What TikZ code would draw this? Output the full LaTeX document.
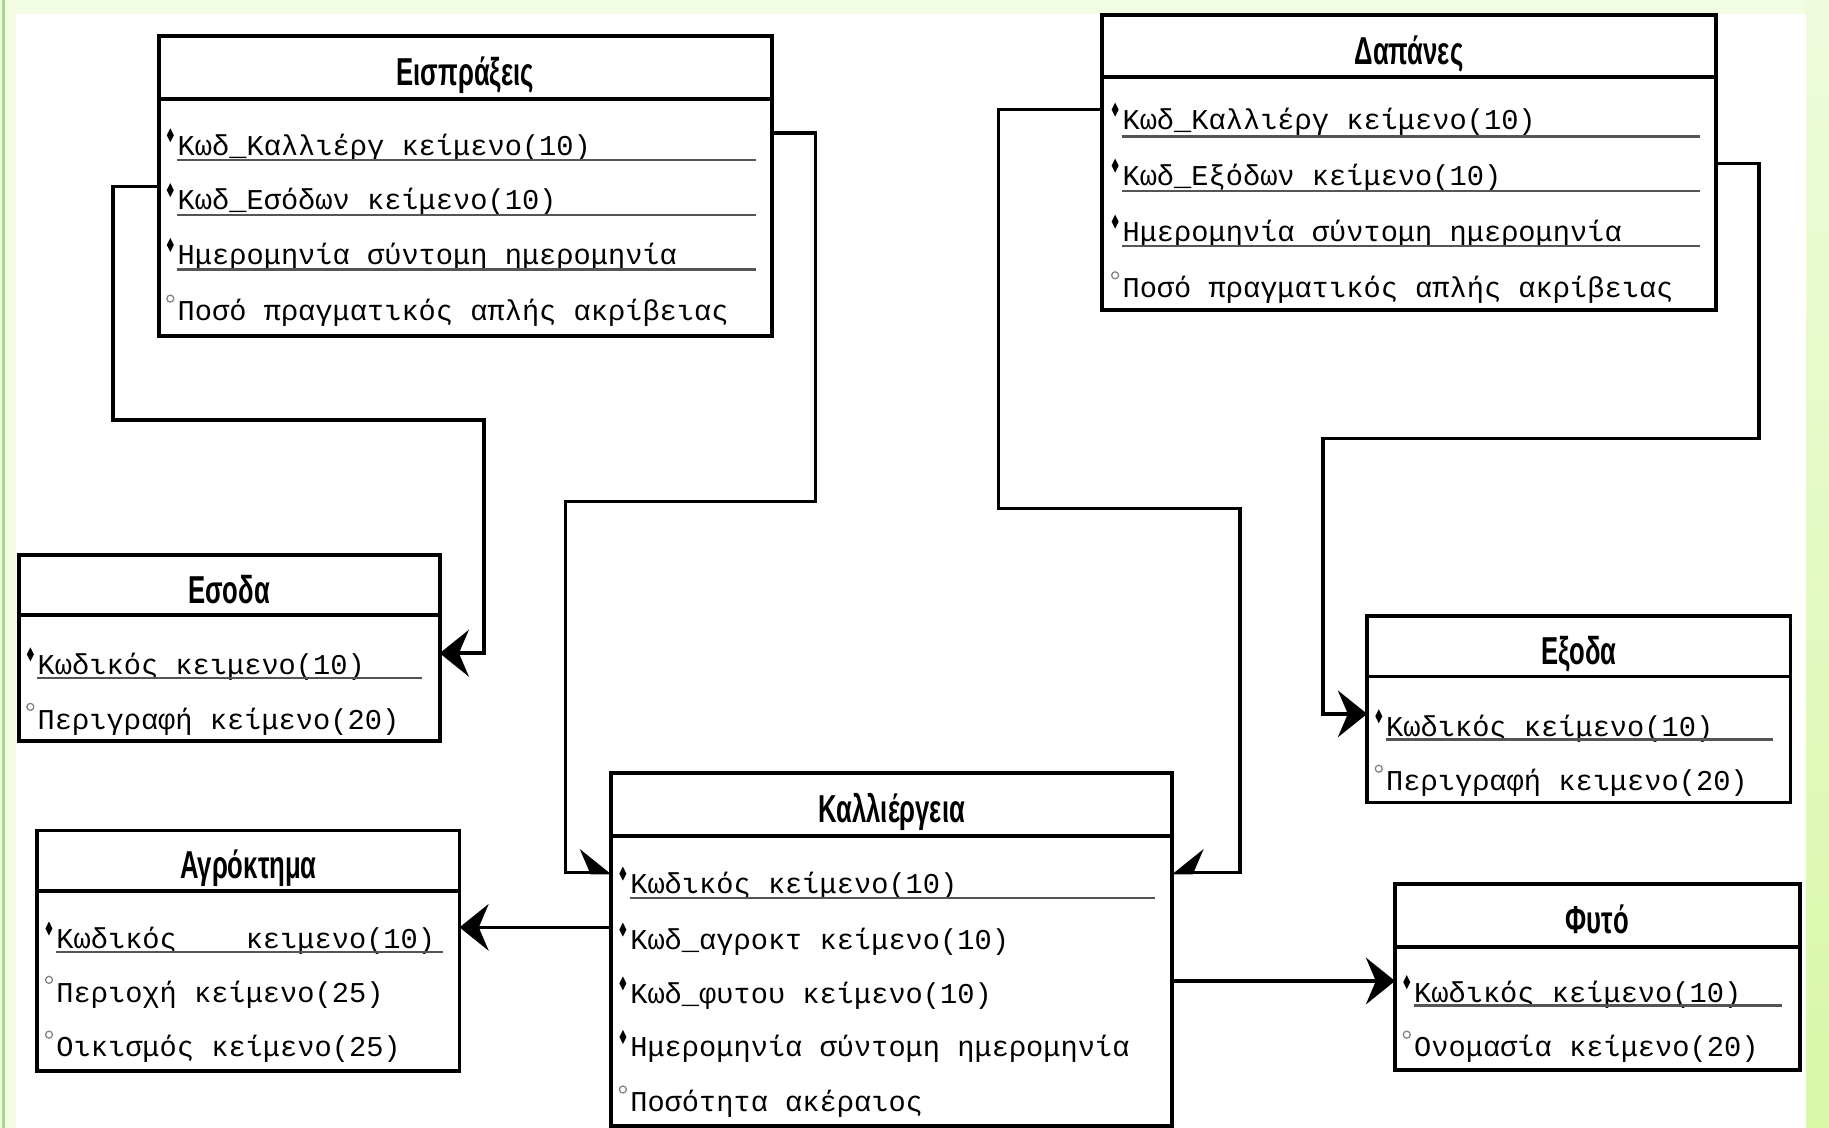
\documentclass[tikz,border=0pt]{standalone}
\usepackage{fontspec}
\usepackage{tikz}
\usetikzlibrary{arrows.meta}
\newfontfamily\attrfam{Liberation Mono}
\newfontfamily\ttlfam[FakeStretch=0.66]{Liberation Sans}
\definecolor{frame}{HTML}{F2FCE3}
\definecolor{framedark}{HTML}{A8D98A}
\definecolor{frametop}{HTML}{EEFBDC}
\definecolor{framebot}{HTML}{D8F8A8}
\definecolor{ulgray}{HTML}{555555}
\definecolor{optgray}{HTML}{808080}
\tikzset{
  ebox/.style={draw, line width=1.9pt, anchor=north west, inner sep=0pt, outer sep=0pt},
  ttl/.style={font=\ttlfam\bfseries\fontsize{19}{22}\selectfont, text height=0.48cm, text depth=0pt},
  attr/.style={anchor=base west, inner sep=0pt, font=\attrfam\fontsize{14}{16}\selectfont},
  uline/.style={draw=ulgray, line width=1.1pt},
  optmark/.style={draw=optgray, line width=0.6pt},
  conn/.style={draw, line width=1.7pt, -{Stealth[length=0.5cm, width=0.8cm, inset=0.17cm]}},
  halfconn/.style={draw, line width=1.7pt, -{Stealth[length=0.5cm, width=0.8cm, inset=0.17cm, #1]}}
}
% key field: filled diamond, other field: small circle
\newcommand{\keyrow}[4]{%
  \node[attr] (#1) at (#2,#3) {#4};
  \fill (#2-9,#3-17) -- (#2-6,#3-23) -- (#2-3,#3-17) -- (#2-6,#3-11) -- cycle;
}
\newcommand{\optrow}[4]{%
  \node[attr] (#1) at (#2,#3) {#4};
  \draw[optmark] (#2-6,#3-19) circle[radius=0.06cm];
}

\begin{document}
\begin{tikzpicture}[x=0.02cm, y=-0.02cm]
  \useasboundingbox (0,0) rectangle (1568,967);
  \fill[frame] (0,0) rectangle (1568,967);
  \fill[framedark] (1.5,0) rectangle (4.5,967);
  \shade[top color=frametop, bottom color=framebot] (1548,0) rectangle (1568,967);
  \fill[white] (14,12) rectangle (1548,967);

  % Εισπράξεις
  \node[ebox, minimum width=10.52cm, minimum height=1.08cm] (eispHead) at (136,31) {};
  \node[ttl] (eispTitle) at ([yshift=-0.07cm]eispHead.center) {Εισπράξεις};
  \node[ebox, minimum width=10.52cm, minimum height=4.06cm] (eispBody) at (eispHead.south west) {};
  \keyrow{eispA}{152}{133}{Κωδ\_Καλλιέργ κείμενο(10)}
  \keyrow{eispB}{152}{180}{Κωδ\_Εσόδων κείμενο(10)}
  \keyrow{eispC}{152}{227}{Ημερομηνία σύντομη ημερομηνία}
  \optrow{eispD}{152}{275}{Ποσό πραγματικός απλής ακρίβειας}
  \draw[uline] (152,137) -- (648,137);
  \draw[uline] (152,184) -- (648,184);
  \draw[uline] (152,231) -- (648,231);

  % Δαπάνες
  \node[ebox, minimum width=10.52cm, minimum height=1.06cm] (dapHead) at (945,13) {};
  \node[ttl] (dapTitle) at ([yshift=-0.07cm]dapHead.center) {Δαπάνες};
  \node[ebox, minimum width=10.52cm, minimum height=4.00cm] (dapBody) at (dapHead.south west) {};
  \keyrow{dapA}{962}{111}{Κωδ\_Καλλιέργ κείμενο(10)}
  \keyrow{dapB}{962}{159}{Κωδ\_Εξόδων κείμενο(10)}
  \keyrow{dapC}{962}{207}{Ημερομηνία σύντομη ημερομηνία}
  \optrow{dapD}{962}{255}{Ποσό πραγματικός απλής ακρίβειας}
  \draw[uline] (962,117) -- (1457,117);
  \draw[uline] (962,164) -- (1457,164);
  \draw[uline] (962,211) -- (1457,211);

  % Εσοδα
  \node[ebox, minimum width=7.22cm, minimum height=1.02cm] (esodHead) at (16,476) {};
  \node[ttl] (esodTitle) at ([yshift=-0.07cm]esodHead.center) {Εσοδα};
  \node[ebox, minimum width=7.22cm, minimum height=2.16cm] (esodBody) at (esodHead.south west) {};
  \keyrow{esodA}{32}{578}{Κωδικός κειμενο(10)}
  \optrow{esodB}{32}{625}{Περιγραφή κείμενο(20)}
  \draw[uline] (32,581) -- (362,581);

  % Αγρόκτημα
  \node[ebox, minimum width=7.24cm, minimum height=1.04cm] (agroHead) at (32,712) {};
  \node[ttl] (agroTitle) at ([yshift=-0.07cm]agroHead.center) {Αγρόκτημα};
  \node[ebox, minimum width=7.24cm, minimum height=3.08cm] (agroBody) at (agroHead.south west) {};
  \keyrow{agroA}{48}{813}{Κωδικός\ \ \ \ κειμενο(10)}
  \optrow{agroB}{48}{859}{Περιοχή κείμενο(25)}
  \optrow{agroC}{48}{906}{Οικισμός κείμενο(25)}
  \draw[uline] (48,816) -- (380,816);

  % Καλλιέργεια
  \node[ebox, minimum width=9.62cm, minimum height=1.08cm] (kallHead) at (524,663) {};
  \node[ttl] (kallTitle) at ([yshift=-0.07cm]kallHead.center) {Καλλιέργεια};
  \node[ebox, minimum width=9.62cm, minimum height=4.96cm] (kallBody) at (kallHead.south west) {};
  \keyrow{kallA}{540}{766}{Κωδικός κείμενο(10)}
  \keyrow{kallB}{540}{814}{Κωδ\_αγροκτ κείμενο(10)}
  \keyrow{kallC}{540}{860}{Κωδ\_φυτου κείμενο(10)}
  \keyrow{kallD}{540}{906}{Ημερομηνία σύντομη ημερομηνία}
  \optrow{kallE}{540}{953}{Ποσότητα ακέραιος}
  \draw[uline] (540,770) -- (990,770);

  % Εξοδα
  \node[ebox, minimum width=7.26cm, minimum height=1.04cm] (exodHead) at (1172,528) {};
  \node[ttl] (exodTitle) at ([yshift=-0.07cm]exodHead.center) {Εξοδα};
  \node[ebox, minimum width=7.26cm, minimum height=2.16cm] (exodBody) at (exodHead.south west) {};
  \keyrow{exodA}{1188}{631}{Κωδικός κείμενο(10)}
  \optrow{exodB}{1188}{678}{Περιγραφή κειμενο(20)}
  \draw[uline] (1188,634) -- (1520,634);

  % Φυτό
  \node[ebox, minimum width=6.94cm, minimum height=1.08cm] (fytoHead) at (1196,758) {};
  \node[ttl] (fytoTitle) at ([yshift=-0.07cm]fytoHead.center) {Φυτό};
  \node[ebox, minimum width=6.94cm, minimum height=2.10cm] (fytoBody) at (fytoHead.south west) {};
  \keyrow{fytoA}{1212}{859}{Κωδικός κείμενο(10)}
  \optrow{fytoB}{1212}{906}{Ονομασία κείμενο(20)}
  \draw[uline] (1212,862) -- (1528,862);

  % relations
  \draw[conn] (eispBody.west |- 0,160) -- (97,160) |- (415,360) |- (esodBody.east |- 0,560);
  \draw[halfconn=left] (eispBody.east |- 0,114) -- (699,114) |- (485,430) |- (kallBody.west |- 0,748);
  \draw[halfconn=right] (dapBody.west |- 0,94) -- (856,94) |- (1063,436) |- (kallBody.east |- 0,748);
  \draw[conn] (dapBody.east |- 0,140) -- (1508,140) |- (1134,376) |- (exodBody.west |- 0,612);
  \draw[conn] (kallBody.west |- 0,795) -- (agroBody.east |- 0,795);
  \draw[conn] (kallBody.east |- 0,841) -- (fytoBody.west |- 0,841);
\end{tikzpicture}
\end{document}
